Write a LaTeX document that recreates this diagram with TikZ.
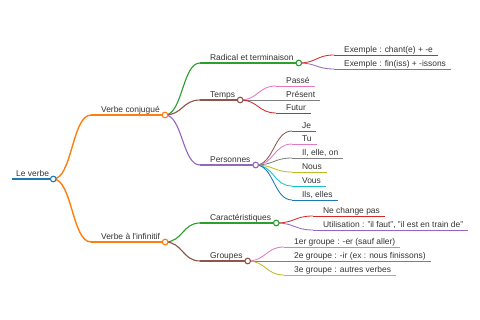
\documentclass[tikz,border=0pt]{standalone}
\usepackage{fontspec}
\setmainfont{Liberation Sans}
\usetikzlibrary{calc}
\definecolor{mmblue}{HTML}{1F77B4}
\definecolor{mmorange}{HTML}{FF7F0E}
\definecolor{mmgreen}{HTML}{2CA02C}
\definecolor{mmred}{HTML}{D62728}
\definecolor{mmpurple}{HTML}{9467BD}
\definecolor{mmbrown}{HTML}{8C564B}
\definecolor{mmpink}{HTML}{E377C2}
\definecolor{mmgray}{HTML}{7F7F7F}
\definecolor{mmolive}{HTML}{BCBD22}
\definecolor{mmcyan}{HTML}{17BECF}
% horizontal s-curve from a parent's knob to a child's underline
\newcommand{\mmlink}[3]{%
  \draw[#1] let \p1=(#2.south east), \p2=(#3.south west) in
    (\p1) .. controls ({(\x1+\x2)/2},\y1) and ({(\x1+\x2)/2},\y2) .. (\p2);}

\begin{document}
\begin{tikzpicture}[x=0.025cm, y=-0.025cm,
    mmtext/.style={anchor=south west, font=\fontsize{6}{7}\selectfont, text=black!80,
      inner ysep=0.9pt, text depth=1pt},
    topic/.style={mmtext, inner xsep=3.5pt, execute at begin node={\hspace*{3.5pt}}},
    rootnode/.style={mmtext, inner xsep=2.8pt}
  ]
    \useasboundingbox (0,0) rectangle (480,320);
    % Root
    \node[rootnode] (verbe) at (12,179) {Le verbe};
    % Level 1
    \node[topic] (conj) at (91,115) {Verbe conjugué};
    \node[topic] (inf)  at (91,242) {Verbe à l\textquotesingle infinitif};
    % Level 2
    \node[topic] (rad)   at (200,63)  {Radical et terminaison};
    \node[topic] (temps) at (200,100) {Temps};
    \node[topic] (pers)  at (200,165) {Personnes};
    \node[topic] (carac) at (200,223) {Caractéristiques};
    \node[topic] (grp)   at (200,261) {Groupes};
    % Leaves: radical
    \node[topic] (exa) at (334,55) {Exemple : chant(e) + -e};
    \node[topic] (exb) at (334,69) {Exemple : fin(iss) + -issons};
    % Leaves: temps
    \node[topic] (passe)   at (276,86)  {Passé};
    \node[topic] (present) at (276,100) {Présent};
    \node[topic] (futur)   at (276,113) {Futur};
    % Leaves: personnes
    \node[topic] (je)   at (292,131) {Je};
    \node[topic] (tu)   at (292,144) {Tu};
    \node[topic] (il)   at (292,158) {Il, elle, on};
    \node[topic] (nous) at (292,172) {Nous};
    \node[topic] (vous) at (292,186) {Vous};
    \node[topic] (ils)  at (292,200) {Ils, elles};
    % Leaves: caracteristiques
    \node[topic] (nechange) at (313,216) {Ne change pas};
    \node[topic] (util)     at (313,230) {Utilisation : "il faut", "il est en train de"};
    % Leaves: groupes
    \node[topic] (ga) at (284,247) {1er groupe : -er (sauf aller)};
    \node[topic] (gb) at (284,261) {2e groupe : -ir (ex : nous finissons)};
    \node[topic] (gc) at (284,275) {3e groupe : autres verbes};
    % Underlines
    \foreach \n/\c/\w in {verbe/mmblue/1.4pt, conj/mmorange/1pt, inf/mmorange/1pt,
        rad/mmgreen/0.8pt, temps/mmbrown/0.8pt, pers/mmpurple/0.8pt,
        carac/mmgreen/0.8pt, grp/mmbrown/0.8pt,
        exa/mmred/0.6pt, exb/mmpurple/0.6pt,
        passe/mmpink/0.6pt, present/mmgray/0.6pt, futur/mmred/0.6pt,
        je/mmbrown/0.6pt, tu/mmpink/0.6pt, il/mmgray/0.6pt,
        nous/mmolive/0.6pt, vous/mmcyan/0.6pt, ils/mmblue/0.6pt,
        nechange/mmred/0.6pt, util/mmpurple/0.6pt,
        ga/mmpink/0.6pt, gb/mmgray/0.6pt, gc/mmolive/0.6pt}
      \draw[\c, line width=\w] (\n.south west) -- (\n.south east);
    % Links
    \foreach \src/\dst/\c/\w in {verbe/conj/mmorange/1pt, verbe/inf/mmorange/1pt,
        conj/rad/mmgreen/0.8pt, conj/temps/mmbrown/0.8pt, conj/pers/mmpurple/0.8pt,
        inf/carac/mmgreen/0.8pt, inf/grp/mmbrown/0.8pt,
        rad/exa/mmred/0.6pt, rad/exb/mmpurple/0.6pt,
        temps/passe/mmpink/0.6pt, temps/present/mmgray/0.6pt, temps/futur/mmred/0.6pt,
        pers/je/mmbrown/0.6pt, pers/tu/mmpink/0.6pt, pers/il/mmgray/0.6pt,
        pers/nous/mmolive/0.6pt, pers/vous/mmcyan/0.6pt, pers/ils/mmblue/0.6pt,
        carac/nechange/mmred/0.6pt, carac/util/mmpurple/0.6pt,
        grp/ga/mmpink/0.6pt, grp/gb/mmgray/0.6pt, grp/gc/mmolive/0.6pt}
      \mmlink{\c, line width=\w}{\src}{\dst};
    % Knobs
    \foreach \n/\c in {verbe/mmblue, conj/mmorange, inf/mmorange, rad/mmgreen,
        temps/mmbrown, pers/mmpurple, carac/mmgreen, grp/mmbrown}
      \draw[\c, line width=0.8pt, fill=white] (\n.south east) circle (2pt);
  \end{tikzpicture}
\end{document}
